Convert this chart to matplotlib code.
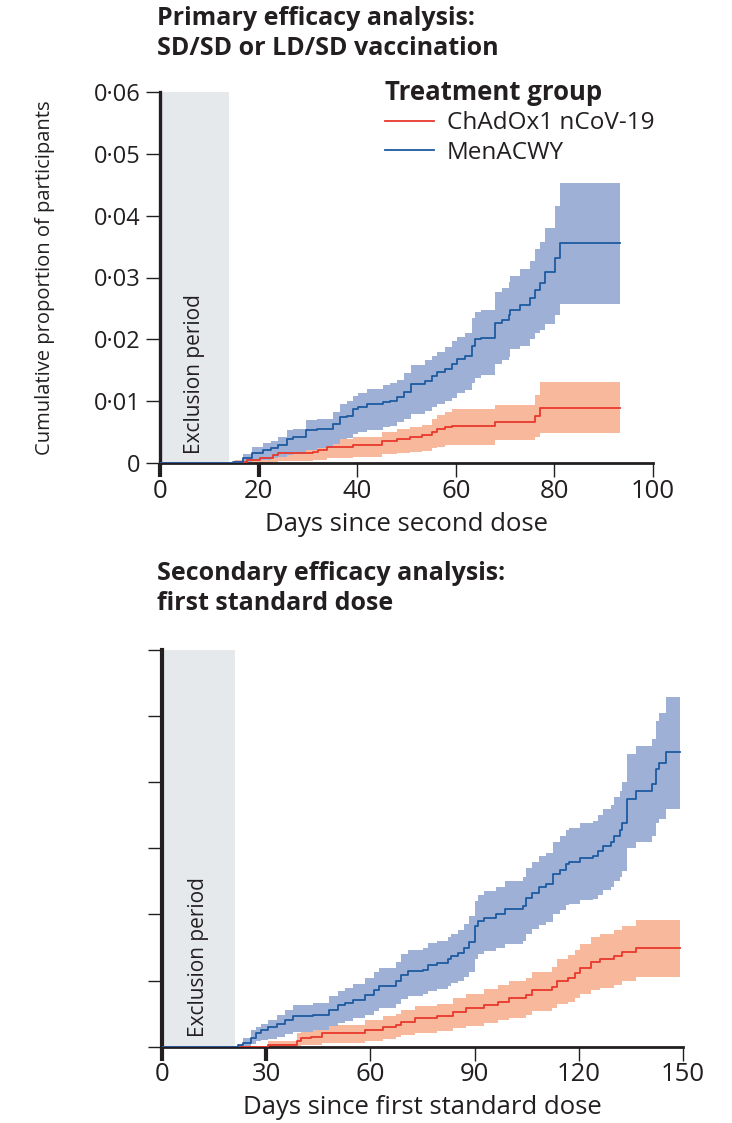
import matplotlib
matplotlib.use("Agg")
import matplotlib.pyplot as plt
from matplotlib.ticker import FuncFormatter

plt.rcParams['font.family'] = ['Open Sans', 'DejaVu Sans']

# ---- primary analysis (days since second dose), proportions x 0.001 ----
p_blue_days = [14.9, 16.9, 18.6, 20.9, 22.6, 24.0, 25.7, 27.0, 29.7, 31.8, 35.1, 36.5, 37.9, 39.2,
               40.2, 41.9, 45.3, 46.7, 48.0, 49.4, 51.0, 53.8, 55.1, 56.1, 57.8, 59.2, 60.2, 61.9,
               63.2, 63.9, 65.2, 68.0, 69.3, 70.7, 71.0, 73.0, 75.1, 76.1, 77.1, 78.1, 80.1, 81.1]
p_blue_est = [0.2, 0.8, 1.6, 2.1, 2.4, 2.9, 4.0, 4.3, 5.3, 5.6, 6.4, 7.5, 7.7, 8.8,
              9.1, 9.6, 9.9, 10.1, 10.7, 11.5, 12.8, 13.3, 14.1, 14.7, 15.2, 16.0, 16.8, 17.3,
              18.9, 20.0, 20.3, 22.7, 23.2, 24.0, 24.8, 25.6, 26.7, 28.0, 29.1, 30.9, 33.1, 35.5]
p_blue_lo = [0.0, 0.2, 0.5, 0.6, 0.8, 1.0, 1.3, 1.5, 2.2, 2.5, 3.1, 3.9, 4.1, 4.7,
             5.0, 5.4, 5.8, 6.0, 6.6, 7.2, 8.0, 8.5, 9.1, 9.6, 10.0, 10.6, 11.3, 11.8,
             12.9, 13.8, 14.2, 16.0, 16.6, 17.2, 18.4, 19.0, 20.0, 21.0, 21.6, 22.5, 24.0, 25.7]
p_blue_hi = [0.4, 1.5, 2.7, 3.2, 3.6, 4.2, 5.3, 5.6, 7.0, 7.2, 8.3, 9.6, 10.0, 10.9,
             11.4, 12.0, 12.6, 12.9, 13.4, 14.5, 15.8, 16.6, 17.3, 17.9, 18.7, 19.8, 20.4, 21.1,
             23.5, 24.5, 24.8, 27.6, 28.3, 29.2, 30.2, 31.3, 32.6, 34.6, 35.8, 38.0, 41.5, 45.3]

p_red_days = [15.2, 17.6, 20.3, 23.0, 24.0, 31.1, 32.1, 33.8, 39.2, 45.0, 48.0, 50.7, 53.1,
              55.1, 56.1, 57.8, 59.2, 68.0, 76.1, 77.1]
p_red_est = [0.2, 0.5, 0.8, 1.3, 1.6, 1.9, 2.2, 2.7, 2.9, 3.6, 4.0, 4.3, 4.5,
             5.1, 5.6, 5.9, 6.1, 6.7, 7.7, 9.0]
p_red_lo = [0.0, 0.0, 0.1, 0.2, 0.3, 0.5, 0.6, 0.9, 1.0, 1.5, 1.7, 1.9, 2.0,
            2.4, 2.7, 2.9, 3.0, 3.8, 4.2, 4.9]
p_red_hi = [0.6, 1.0, 1.7, 2.4, 2.7, 3.3, 3.6, 4.0, 4.3, 5.1, 5.6, 5.9, 6.2,
            7.2, 7.8, 8.3, 8.7, 9.4, 11.0, 13.1]
p_end = 93.3

# ---- secondary analysis (days since first standard dose) ----
s_blue_days = [21.8, 23.4, 25.5, 27.0, 28.6, 30.6, 33.2, 35.3, 37.8, 43.5, 48.2, 50.7, 52.8,
               54.9, 58.5, 61.1, 62.6, 67.3, 68.8, 70.9, 75.0, 76.6, 79.1, 82.2, 83.3, 85.3,
               86.9, 88.4, 90.0, 91.0, 92.6, 96.2, 98.7, 103.9, 104.9, 106.5, 108.6, 110.6,
               112.7, 114.7, 116.3, 117.3, 120.4, 124.0, 125.6, 127.1, 129.2, 130.2, 131.8,
               132.3, 133.9, 136.4, 141.1, 142.1, 143.1, 145.2]
s_blue_est = [0.2, 0.5, 1.3, 2.0, 2.5, 3.0, 3.5, 4.1, 4.6, 4.8, 5.6, 6.3, 6.6,
              7.1, 7.8, 8.6, 9.2, 9.9, 10.9, 11.4, 11.6, 12.4, 12.7, 13.2, 13.7, 14.2,
              14.9, 15.9, 18.2, 19.0, 19.5, 20.0, 20.8, 21.3, 22.5, 23.3, 24.1, 24.6,
              26.1, 26.8, 27.6, 27.9, 28.6, 28.9, 29.6, 30.4, 30.9, 31.9, 32.7,
              33.9, 37.5, 38.7, 39.7, 42.0, 42.9, 44.5]
s_blue_lo = [0.0, 0.1, 0.4, 0.8, 1.0, 1.2, 1.5, 1.9, 2.2, 2.6, 3.2, 3.6, 3.9,
             4.3, 4.8, 5.4, 5.9, 6.5, 7.2, 7.6, 7.9, 8.5, 8.7, 9.2, 9.6, 10.0,
             10.5, 11.3, 13.3, 14.0, 14.5, 14.9, 15.6, 16.0, 17.1, 17.8, 18.4, 18.8,
             20.1, 20.7, 21.4, 21.6, 22.2, 22.4, 23.0, 23.7, 24.1, 25.0, 25.6,
             26.6, 30.0, 31.0, 31.8, 33.8, 34.5, 36.0]
s_blue_hi = [0.4, 1.3, 2.5, 3.0, 3.5, 4.1, 4.8, 5.6, 6.3, 6.6, 7.6, 8.5, 8.9,
             9.5, 10.4, 11.3, 11.9, 12.8, 14.0, 14.6, 14.9, 15.7, 16.0, 16.6, 17.1, 17.7,
             18.6, 19.8, 22.1, 22.9, 23.6, 24.2, 25.0, 25.6, 27.0, 27.9, 28.8, 29.3,
             31.0, 31.8, 32.7, 33.1, 33.8, 34.2, 35.1, 36.0, 36.6, 37.8, 38.7,
             40.1, 44.3, 45.5, 46.6, 49.3, 50.4, 52.9]

s_red_days = [30.6, 38.9, 39.9, 43.0, 46.1, 58.5, 63.7, 67.3, 68.8, 72.9, 79.1, 83.8, 87.4,
              92.6, 96.7, 99.8, 104.9, 106.5, 112.2, 113.7, 116.8, 118.9, 120.4, 123.5,
              126.1, 130.2, 132.3, 136.4]
s_red_est = [0.25, 0.8, 1.3, 1.5, 2.0, 2.5, 3.0, 3.3, 3.8, 4.3, 4.6, 5.3, 5.8,
             6.3, 6.8, 7.3, 7.8, 8.6, 9.1, 9.9, 10.4, 11.1, 11.9, 12.8,
             13.2, 13.7, 14.3, 14.9]
s_red_lo = [0.0, 0.1, 0.2, 0.3, 0.5, 0.9, 1.2, 1.4, 1.8, 2.1, 2.3, 2.9, 3.2,
            3.6, 4.0, 4.4, 4.8, 5.4, 5.9, 6.5, 6.8, 7.4, 7.9, 8.6,
            8.9, 9.4, 9.9, 10.5]
s_red_hi = [0.8, 2.0, 2.6, 2.8, 3.3, 4.1, 4.6, 4.9, 5.6, 6.1, 6.4, 7.4, 8.0,
            8.8, 9.4, 9.9, 10.4, 11.3, 12.0, 13.2, 13.8, 14.6, 15.6, 16.6,
            17.0, 17.6, 18.3, 19.2]
s_end = 149.1

groups = ['ChAdOx1 nCoV-19', 'MenACWY']
red_line = '#e8382b'
red_band = '#f7b89c'
blue_line = '#1d5aa0'
blue_band = '#9fb0d6'
grey_band = '#e6e9ec'
ink = '#231f20'


def km(ax, days, est, lo, hi, end, lc, bc, label):
    x = [0] + days + [end]
    y = [0] + [v / 1000 for v in est] + [est[-1] / 1000]
    ylo = [0] + [v / 1000 for v in lo] + [lo[-1] / 1000]
    yhi = [0] + [v / 1000 for v in hi] + [hi[-1] / 1000]
    ax.fill_between(x, ylo, yhi, step='post', color=bc, lw=0, zorder=2)
    line, = ax.step(x, y, where='post', color=lc, lw=1.3, zorder=3, label=label)
    return line


def dot_fmt(v, pos):
    if abs(v) < 1e-9:
        return '0'
    return f'{v:.2f}'.replace('.', '\u00b7')


def style(ax, xmax, xticks, excl, labels_y):
    ax.axvspan(0, excl, color=grey_band, lw=0, zorder=1)
    ax.set_xlim(0, xmax)
    ax.set_ylim(0, 0.06)
    ax.set_xticks(xticks)
    ax.set_yticks([0, 0.01, 0.02, 0.03, 0.04, 0.05, 0.06])
    for s in ['top', 'right']:
        ax.spines[s].set_visible(False)
    ax.spines['left'].set_linewidth(2.4)
    ax.spines['bottom'].set_linewidth(2.0)
    ax.spines['left'].set_color(ink)
    ax.spines['bottom'].set_color(ink)
    ax.tick_params(axis='both', direction='out', length=10, width=1.0, color=ink,
                   labelcolor=ink)
    ax.tick_params(axis='x', labelsize=18.5, pad=1)
    ax.tick_params(axis='y', labelsize=17, pad=4)
    # first two x ticks are drawn heavier in the original
    for t in ax.xaxis.get_major_ticks()[:2]:
        t.tick1line.set_markeredgewidth(3.0)
    if labels_y:
        ax.yaxis.set_major_formatter(FuncFormatter(dot_fmt))
    else:
        ax.set_yticklabels([])
    ax.text(excl / 2, 0.0015, 'Exclusion period', rotation=90, ha='center', va='bottom',
            fontsize=15, color=ink, zorder=4)


fig = plt.figure(figsize=(7.32, 11.23), dpi=100)

ax1 = fig.add_axes([160 / 732, 1 - 463.3 / 1123, 493 / 732, 371.6 / 1123])
style(ax1, 100, [0, 20, 40, 60, 80, 100], 14, True)
l_red = km(ax1, p_red_days, p_red_est, p_red_lo, p_red_hi, p_end, red_line, red_band, groups[0])
l_blue = km(ax1, p_blue_days, p_blue_est, p_blue_lo, p_blue_hi, p_end, blue_line, blue_band, groups[1])
ax1.set_xlabel('Days since second dose', fontsize=18.5, color=ink, labelpad=6)
ax1.set_ylabel('Cumulative proportion of participants', fontsize=14.5, color=ink)
ax1.yaxis.set_label_coords(-0.212, 0.5)

leg = ax1.legend(handles=[l_red, l_blue], title='Treatment group', frameon=False,
                 loc='upper left', bbox_to_anchor=(385 / 732, 1 - 79 / 1123),
                 bbox_transform=fig.transFigure, borderpad=0, borderaxespad=0,
                 fontsize=17.5, title_fontproperties={'weight': 'bold', 'size': 18.5},
                 alignment='left', handlelength=2.0, handletextpad=0.55, labelspacing=0.22)
for t in leg.get_texts():
    t.set_color(ink)
leg.get_title().set_color(ink)

ax2 = fig.add_axes([162 / 732, 1 - 1046.7 / 1123, 521 / 732, 396.7 / 1123])
style(ax2, 150, [0, 30, 60, 90, 120, 150], 21, False)
ax2.spines['left'].set_linewidth(3.0)
km(ax2, s_red_days, s_red_est, s_red_lo, s_red_hi, s_end, red_line, red_band, groups[0])
km(ax2, s_blue_days, s_blue_est, s_blue_lo, s_blue_hi, s_end, blue_line, blue_band, groups[1])
ax2.set_xlabel('Days since first standard dose', fontsize=18.5, color=ink, labelpad=6)

fig.text(157 / 732, 1 - 6 / 1123, 'Primary efficacy analysis:\nSD/SD or LD/SD vaccination',
         ha='left', va='top', fontsize=18, fontweight='bold', color=ink, linespacing=1.25)
fig.text(157 / 732, 1 - 561 / 1123, 'Secondary efficacy analysis:\nfirst standard dose',
         ha='left', va='top', fontsize=18, fontweight='bold', color=ink, linespacing=1.25)

fig.savefig('out.png', dpi=100)
